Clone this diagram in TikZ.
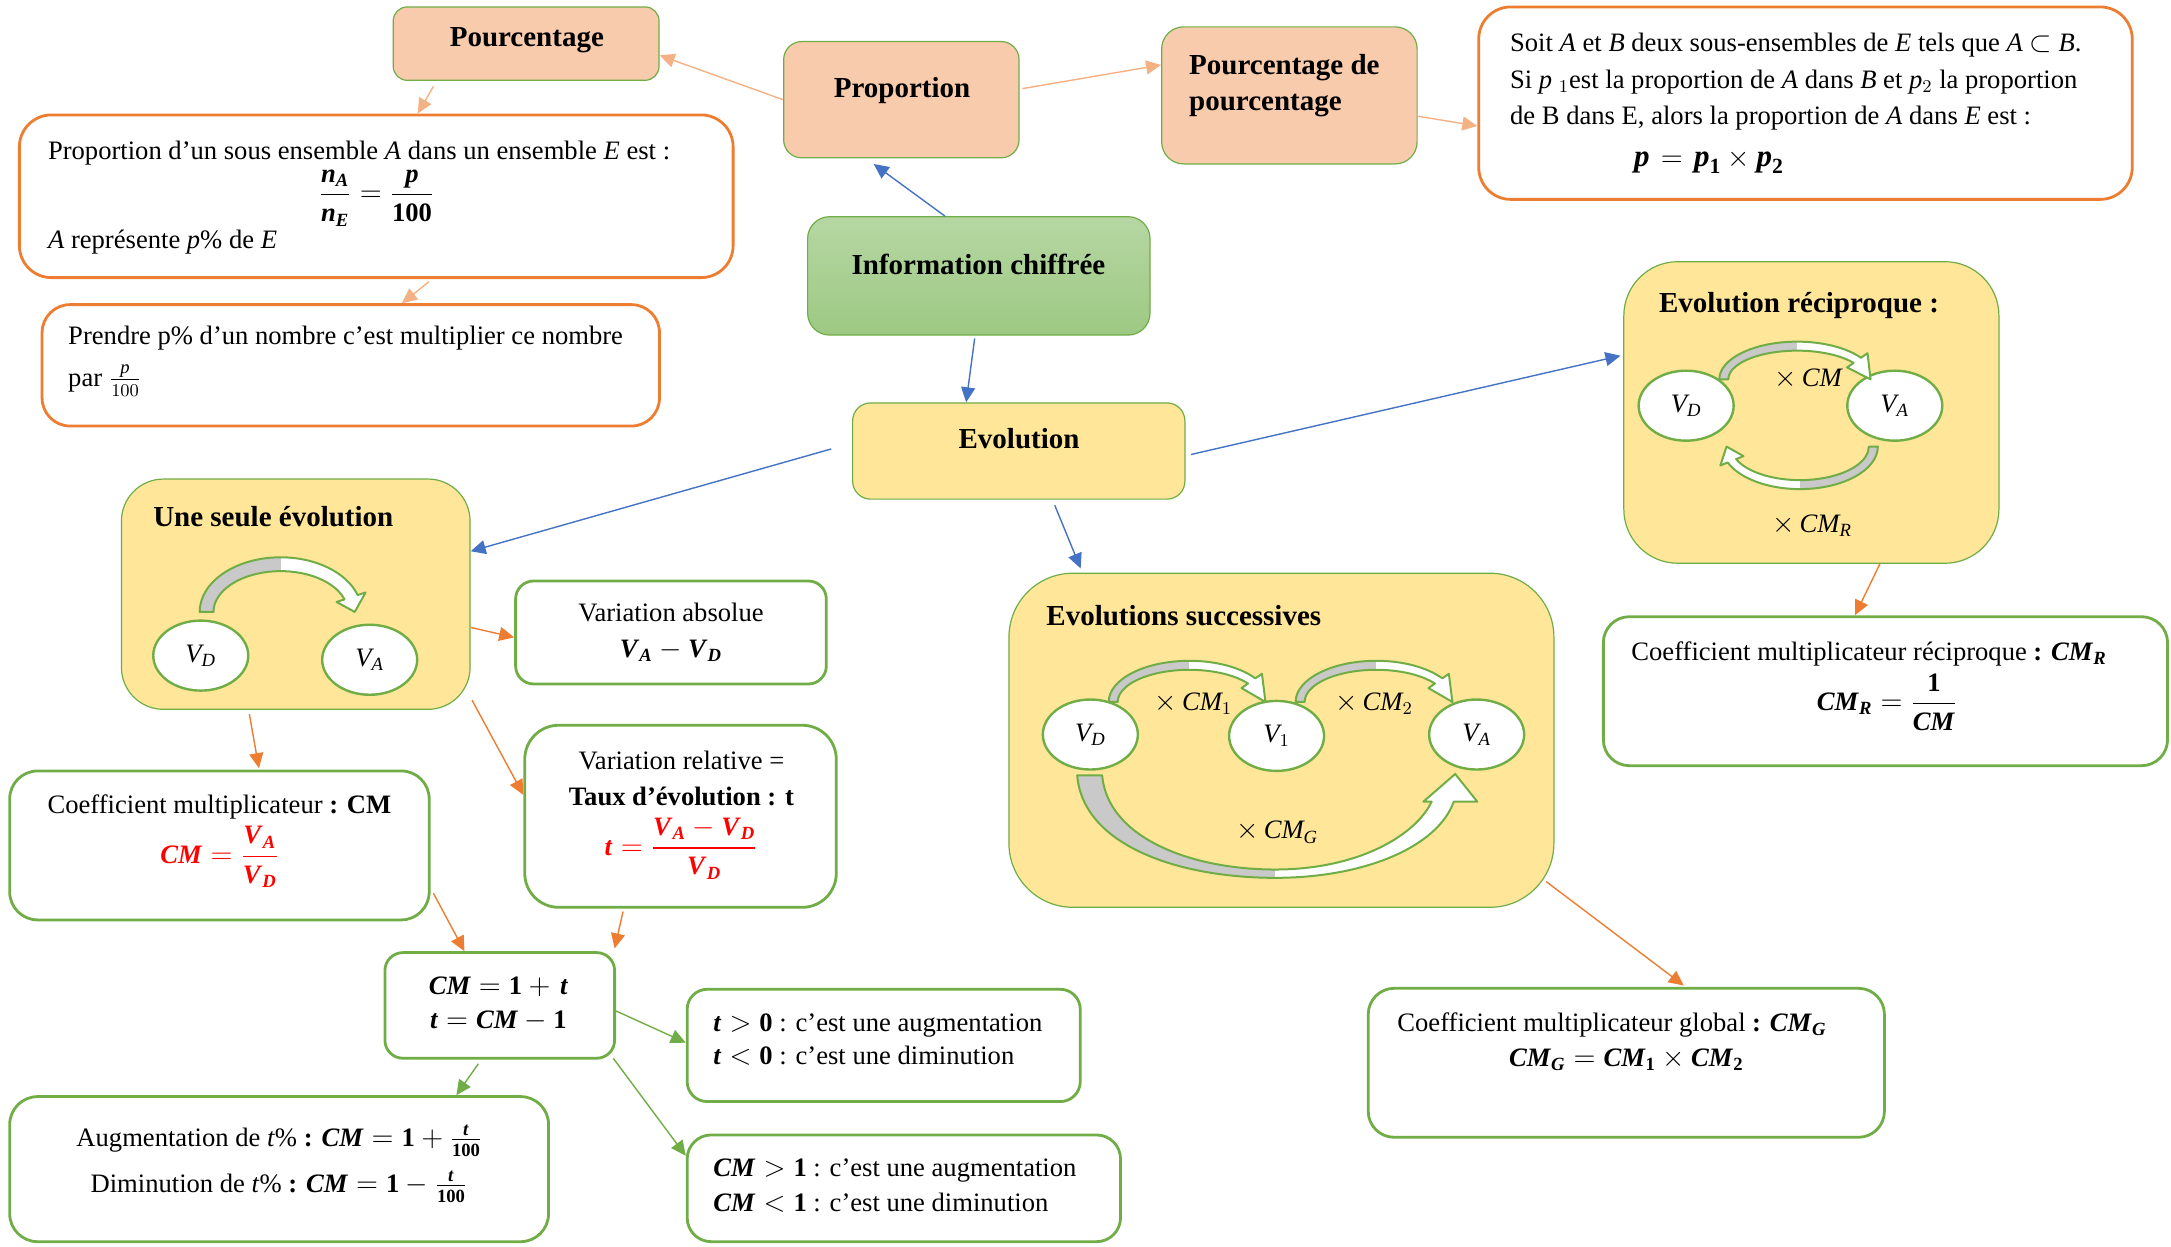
\documentclass[tikz,border=0pt]{standalone}
\usepackage{amsmath}
\usepackage{fontspec}
\setmainfont{Liberation Serif}
\usetikzlibrary{arrows.meta,fit,shapes.geometric,calc}
\definecolor{peach}{HTML}{F8CBAD}
\definecolor{gline}{HTML}{70AD47}
\definecolor{oline}{HTML}{ED7D31}
\definecolor{loline}{HTML}{F4B183}
\definecolor{yel}{HTML}{FFE699}
\definecolor{blu}{HTML}{4472C4}
\definecolor{infotop}{HTML}{B6D7A3}
\definecolor{infobot}{HTML}{9DC983}
\definecolor{redf}{HTML}{FF0000}
\definecolor{grayf}{HTML}{C9C9C9}
\newcommand\fb{\fontsize{13.3}{16}\selectfont}
\newcommand\ftl{\fontsize{14.5}{17}\selectfont\bfseries}
\newcommand\fbig{\fontsize{15.5}{18}\selectfont}
\newcommand\bi[1]{\textbf{\textit{#1}}}
\newcommand\bu[1]{\textbf{#1}}
\newcommand\ti[1]{\textit{#1}}
\newcommand\bv[1]{\bi{V}_{\bi{#1}}}
\newcommand\mkbox[7]{\node[#6, inner sep=0pt, rounded corners=#7, fit={(#2,#3) (#4,#5)}] (#1) {};}
% curved block arrow: #1 centre, #2 rx, #3 ry, #4 start angle, #5 head-base angle, #6 band width, #7 head width, #8 tip angle, #9 grey region
\newcommand\carrow[9]{%
  \begin{scope}[shift={(#1)}]
    \pgfmathsetmacro\rxo{#2+#6/2}\pgfmathsetmacro\ryo{#3+#6/2}%
    \pgfmathsetmacro\rxi{#2-#6/2}\pgfmathsetmacro\ryi{#3-#6/2}%
    \pgfmathsetmacro\rxho{#2+#7/2}\pgfmathsetmacro\ryho{#3+#7/2}%
    \pgfmathsetmacro\rxhi{#2-#7/2}\pgfmathsetmacro\ryhi{#3-#7/2}%
    \def\cpth{(xyz polar cs:angle=#4,x radius=\rxo,y radius=\ryo)
      arc[start angle=#4,end angle=#5,x radius=\rxo,y radius=\ryo]
      -- (xyz polar cs:angle=#5,x radius=\rxho,y radius=\ryho)
      -- (xyz polar cs:angle=#8,x radius=#2,y radius=#3)
      -- (xyz polar cs:angle=#5,x radius=\rxhi,y radius=\ryhi)
      -- (xyz polar cs:angle=#5,x radius=\rxi,y radius=\ryi)
      arc[start angle=#5,end angle=#4,x radius=\rxi,y radius=\ryi] -- cycle}%
    \fill[white] \cpth;
    \begin{scope}\clip \cpth; \fill[grayf] #9; \end{scope}
    \draw[blockline] \cpth;
  \end{scope}}
\begin{document}
\begin{tikzpicture}[x=0.6923pt,y=-0.6923pt,
  peachbox/.style={rectangle, fill=peach, draw=gline, line width=0.6pt},
  obox/.style={rectangle, fill=white, draw=oline, line width=1.4pt},
  gbox/.style={rectangle, fill=white, draw=gline, line width=1.4pt},
  ybox/.style={rectangle, fill=yel, draw=gline, line width=0.6pt},
  ibox/.style={rectangle, top color=infotop, bottom color=infobot, draw=gline, line width=0.6pt},
  circ/.style={ellipse, draw=gline, line width=1.2pt, fill=white, minimum width=47.5pt, minimum height=35pt, inner sep=0pt, font=\fb},
  txt/.style={inner sep=0pt, font=\fb},
  ttl/.style={inner sep=0pt, font=\ftl},
  blockline/.style={draw=gline, line width=1pt, line join=round},
  arr/.style={-{Triangle[length=7.5pt,width=7pt]}, line width=0.7pt},
  ca/.style={arr, color=loline}, cb/.style={arr, color=blu},
  co/.style={arr, color=oline}, cg/.style={arr, color=gline}]
\useasboundingbox (0,0) rectangle (1568,900);
% ---------- boxes
\mkbox{pourc}{284}{5}{476}{58}{peachbox}{7pt}
\mkbox{prop}{566}{30}{736}{114}{peachbox}{9pt}
\mkbox{pdp}{839}{19.4}{1023.5}{118.4}{peachbox}{11pt}
\mkbox{soit}{1068}{5}{1540}{144}{obox}{16pt}
\mkbox{def}{14}{83}{529.5}{200.5}{obox}{16pt}
\mkbox{prendre}{30.4}{220}{476.3}{307.7}{obox}{14pt}
\mkbox{info}{583.3}{156.5}{830.6}{242}{ibox}{11pt}
\mkbox{evo}{615.8}{291}{855.8}{360.5}{ybox}{9pt}
\mkbox{seule}{87.7}{346}{339.5}{512.3}{ybox}{21pt}
\mkbox{varabs}{372.4}{419.6}{596.8}{494}{gbox}{9pt}
\mkbox{varrel}{379}{523.8}{604}{655.3}{gbox}{17pt}
\mkbox{cm}{7}{556.8}{310}{664.4}{gbox}{14pt}
\mkbox{cmt}{278}{688}{443.9}{764.3}{gbox}{9pt}
\mkbox{tpos}{496.3}{714.5}{780.2}{795.6}{gbox}{10pt}
\mkbox{aug}{7}{792}{396.2}{896.8}{gbox}{14pt}
\mkbox{cmpos}{496.3}{819.7}{809.3}{896.8}{gbox}{12pt}
\mkbox{succ}{728.7}{414}{1122.3}{655.3}{ybox}{32pt}
\mkbox{recip}{1172.8}{189}{1443.7}{406.8}{ybox}{27pt}
\mkbox{cmr}{1158}{445.4}{1565.5}{553}{gbox}{13pt}
\mkbox{cmg}{988.2}{713.8}{1361}{821.4}{gbox}{13pt}
% ---------- connectors
\draw[ca] (prop.west) -- ($(pourc.east)+(0,8.5)$);
\draw[ca] ($(prop.east)+(2,-8)$) -- ($(pdp.west)+(0,-22)$);
\draw[ca] ($(pourc.south)+(-67,4)$) -- ($(def.north)+(30,0)$);
\draw[ca] ($(pdp.east)+(0,15)$) -- ($(soit.west)+(0,16.5)$);
\draw[ca] ($(def.south)+(38,2)$) -- ($(prendre.north)+(37,0)$);
\draw[cb] ($(info.north)+(-24.5,0)$) -- ($(prop.south)+(-20,4)$);
\draw[cb] ($(info.south)+(-3,2)$) -- ($(evo.north)+(-38,0)$);
\draw[cb] ($(evo.west)+(-15,-1.5)$) -- ($(seule.east)+(0,-31)$);
\draw[cb] ($(evo.south)+(26,4)$) -- ($(succ.north)+(-145,-3)$);
\draw[cb] ($(evo.east)+(4,2.5)$) -- ($(recip.west)+(-2,-41)$);
\draw[co] ($(seule.east)+(0,24)$) -- ($(varabs.west)+(0,3.5)$);
\draw[co] ($(seule.south east)+(1,-7)$) -- ($(varrel.west)+(0,-15.5)$);
\draw[co] ($(seule.south)+(-33.5,3)$) -- ($(cm.north)+(28.5,-1)$);
\draw[co] ($(cm.east)+(2,34.5)$) -- ($(cmt.north)+(-25.5,0)$);
\draw[co] ($(varrel.south)+(-41.5,2)$) -- ($(cmt.north east)+(-1,-2)$);
\draw[cg] ($(cmt.east)+(0,4)$) -- ($(tpos.west)+(0,-2)$);
\draw[cg] ($(cmt.south east)+(-2,-1)$) -- ($(cmpos.west)+(0,-23.5)$);
\draw[cg] ($(cmt.south)+(-15.5,3)$) -- ($(aug.north)+(128,0)$);
\draw[co] ($(recip.south)+(49.5,0)$) -- ($(cmr.north)+(-22,0)$);
\draw[co] ($(succ.south east)+(-6,-19)$) -- ($(cmg.north)+(41.5,-1)$);
% ---------- top texts
\node[ttl, anchor=base] (tpourc) at (380.5,33.7) {Pourcentage};
\node[ttl, anchor=base] (tprop) at (651.5,70.3) {Proportion};
\node[ttl, anchor=base west] (tpdp1) at (858.6,54) {Pourcentage de};
\node[ttl, anchor=base west] (tpdp2) at (858.6,80) {pourcentage};
\node[txt, anchor=base west] (ts1) at (1090.4,37.3) {Soit \ti{A} et \ti{B} deux sous-ensembles de \ti{E} tels que \ti{A} $\subset$ \ti{B}.};
\node[txt, anchor=base west] (ts2) at (1090.4,63.6) {Si \ti{p} $_1$est la proportion de \ti{A} dans \ti{B} et \ti{p}$_2$ la proportion};
\node[txt, anchor=base west] (ts3) at (1090.4,90) {de B dans E, alors la proportion de \ti{A} dans \ti{E} est :};
\node[txt, anchor=base west] (ts4) at (1180,120) {\fbig $\bi{p}\mkern2mu=\mkern2mu\bi{p}_{\bu{1}}\times\bi{p}_{\bu{2}}$};
\node[txt, anchor=base west] (td1) at (34.4,115) {Proportion d’un sous ensemble \ti{A} dans un ensemble \ti{E} est :};
\node[txt] (td2) at (272,143) {$\dfrac{\bi{n}_{\bi{A}}}{\bi{n}_{\bi{E}}}=\dfrac{\bi{p}}{\bu{100}}$};
\node[txt, anchor=base west] (td3) at (34.4,179.3) {\ti{A} représente \ti{p}\% de \ti{E}};
\node[txt, anchor=base west] (tp1) at (49,249) {Prendre p\% d’un nombre c’est multiplier ce nombre};
\node[txt, anchor=base west] (tp2) at (49,279) {par $\frac{\ti{p}}{100}$};
\node[ttl, anchor=base] (tinfo) at (706.7,198.6) {Information chiffrée};
\node[ttl, anchor=base] (tevo) at (736,324) {Evolution};
% ---------- une seule evolution
\node[ttl, anchor=base west] (tseule) at (110.4,380) {Une seule évolution};
\node[circ] (sd) at (145,473.5) {$\ti{V}_{\ti{D}}$};
\node[circ] (sa) at (267,476.5) {$\ti{V}_{\ti{A}}$};
\carrow{202.7,442}{53.5}{34.5}{180}{342}{10}{22}{360}{(-80,-60) rectangle (0,20)}
\node[txt, anchor=base] (tva1) at (484.6,449) {Variation absolue};
\node[txt, anchor=base] (tva2) at (484.6,474.6) {$\bv{A}-\bv{D}$};
\node[txt, anchor=base] (tvr1) at (492.2,556) {Variation relative =};
\node[txt, anchor=base] (tvr2) at (492.2,581.4) {\bfseries Taux d’évolution : t};
\node[txt, text=redf] (tvr3) at (492,613) {$\bi{t}=\dfrac{\bv{A}-\bv{D}}{\bv{D}}$};
\node[txt, anchor=base] (tcm1) at (158.5,587.3) {Coefficient multiplicateur \bu{: CM}};
\node[txt, text=redf] (tcm2) at (158.8,619) {$\bi{CM}=\dfrac{\bv{A}}{\bv{D}}$};
\node[txt, anchor=base] (tcmt1) at (360,718.6) {$\bi{CM}=\bu{1}+\mkern2mu\bi{t}$};
\node[txt, anchor=base] (tcmt2) at (360,742.5) {$\bi{t}=\bi{CM}-\bu{1}$};
\node[txt, anchor=base west] (ttp1) at (515,745) {$\bi{t}>\bu{0}$ : c’est une augmentation};
\node[txt, anchor=base west] (ttp2) at (515,769) {$\bi{t}<\bu{0}$ : c’est une diminution};
\node[txt, anchor=base] (tag1) at (201.8,828) {Augmentation de \ti{t}\% \bu{:} $\bi{CM}=\bu{1}+\frac{\bi{t}}{\bu{100}}$};
\node[txt, anchor=base] (tag2) at (201.5,861.6) {Diminution de \ti{t}\% \bu{:} $\bi{CM}=\bu{1}-\frac{\bi{t}}{\bu{100}}$};
\node[txt, anchor=base west] (tcp1) at (515,849.8) {$\bi{CM}>\bu{1}$ : c’est une augmentation};
\node[txt, anchor=base west] (tcp2) at (515,875) {$\bi{CM}<\bu{1}$ : c’est une diminution};
% ---------- evolutions successives
\node[ttl, anchor=base west] (tsucc) at (755.5,452) {Evolutions successives};
\node[circ] (cd) at (787.5,530.5) {$\ti{V}_{\ti{D}}$};
\node[circ] (c1) at (922,531.5) {$\ti{V}_1$};
\node[circ] (ca) at (1066.5,530.5) {$\ti{V}_{\ti{A}}$};
\carrow{859,507}{55}{26.5}{180}{325}{6.5}{18}{360}{(-80,-50) rectangle (0,10)}
\carrow{994,507}{55}{26.5}{180}{325}{6.5}{18}{360}{(-80,-50) rectangle (0,10)}
\def\bigpath{(778,560) .. controls (782,610) and (850,634) .. (921,634) .. controls (985,634) and (1038,612) .. (1050,579) -- (1067,579) -- (1051,559) -- (1028,579) -- (1034,579) .. controls (1022,604) and (980,628) .. (921,628) .. controls (860,628) and (800,605) .. (796,560) -- cycle}
\fill[white] \bigpath;
\begin{scope}\clip \bigpath; \fill[grayf] (700,540) rectangle (921,650); \end{scope}
\draw[blockline] \bigpath;
\node[txt] (l1) at (862,508) {$\times\,\ti{CM}_1$};
\node[txt] (l2) at (992.5,508) {$\times\,\ti{CM}_2$};
\node[txt] (lg) at (922.6,601) {$\times\,\ti{CM}_{\ti{G}}$};
% ---------- evolution reciproque
\node[ttl, anchor=base west] (trec) at (1198,225.5) {Evolution réciproque :};
\node[circ] (rd) at (1217.8,293) {$\ti{V}_{\ti{D}}$};
\node[circ] (ra) at (1368.5,293) {$\ti{V}_{\ti{A}}$};
\carrow{1298,274}{53}{24}{180}{325}{6.5}{18}{360}{(-80,-50) rectangle (0,10)}
\carrow{1300,322.5}{53}{27.5}{0}{158}{6.5}{18}{180}{(0,-10) rectangle (80,50)}
\node[txt] (lr1) at (1306,274) {$\times\,\ti{CM}$};
\node[txt] (lr2) at (1308.8,379.7) {$\times\,\ti{CM}_{\ti{R}}$};
\node[txt, anchor=base west] (tcr1) at (1178,476.7) {Coefficient multiplicateur réciproque \bu{:} $\bi{CM}_{\bi{R}}$};
\node[txt] (tcr2) at (1363,507) {$\bi{CM}_{\bi{R}}=\dfrac{\bu{1}}{\bi{CM}}$};
\node[txt, anchor=base west] (tcg1) at (1009,745) {Coefficient multiplicateur global \bu{:} $\bi{CM}_{\bi{G}}$};
\node[txt, anchor=base] (tcg2) at (1174.6,770) {$\bi{CM}_{\bi{G}}=\bi{CM}_{\bu{1}}\times\bi{CM}_{\bu{2}}$};
\end{tikzpicture}
\end{document}
